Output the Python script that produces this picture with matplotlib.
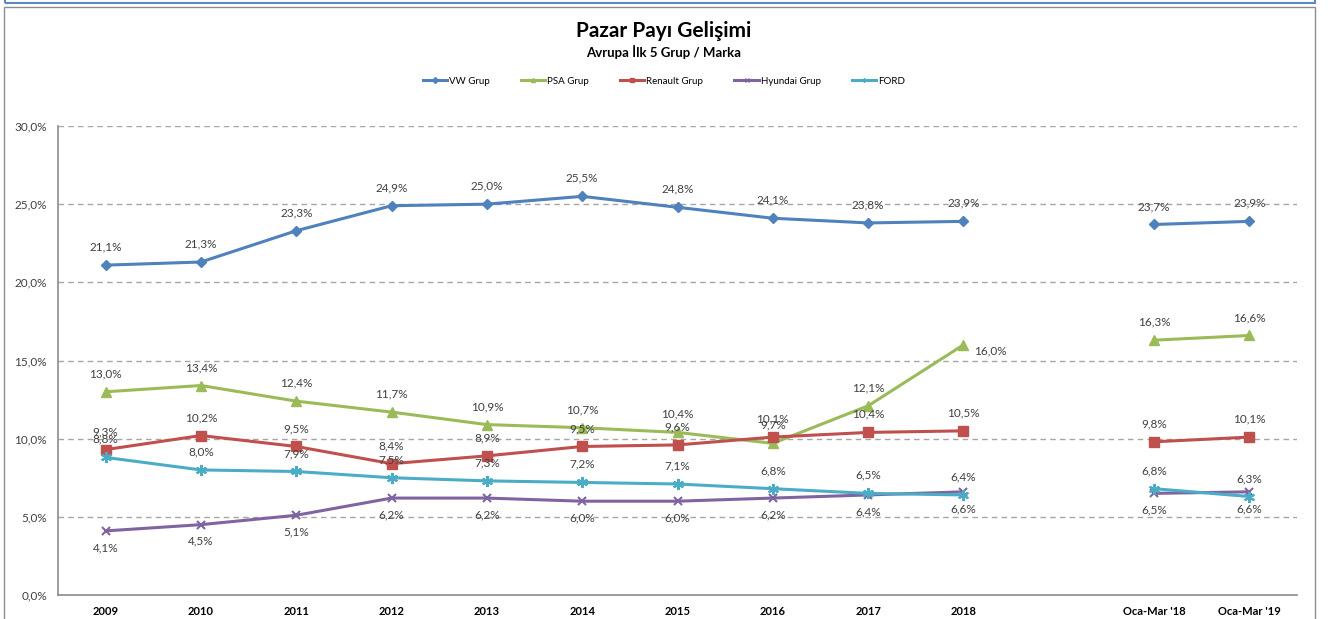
import numpy as np
import matplotlib
matplotlib.use('Agg')
import matplotlib.pyplot as plt
from matplotlib.patches import Rectangle
from matplotlib.lines import Line2D

plt.rcParams['font.family'] = ['Lato', 'DejaVu Sans']

# kategoriler (2018 ile Oca-Mar '18 arasında boş bir sütun var)
categories = ['2009', '2010', '2011', '2012', '2013', '2014', '2015', '2016',
              '2017', '2018', '', "Oca-Mar '18", "Oca-Mar '19"]

vw = [21.1, 21.3, 23.3, 24.9, 25.0, 25.5, 24.8, 24.1, 23.8, 23.9, None, 23.7, 23.9]
psa = [13.0, 13.4, 12.4, 11.7, 10.9, 10.7, 10.4, 9.7, 12.1, 16.0, None, 16.3, 16.6]
renault = [9.3, 10.2, 9.5, 8.4, 8.9, 9.5, 9.6, 10.1, 10.4, 10.5, None, 9.8, 10.1]
hyundai = [4.1, 4.5, 5.1, 6.2, 6.2, 6.0, 6.0, 6.2, 6.4, 6.6, None, 6.5, 6.6]
ford = [8.8, 8.0, 7.9, 7.5, 7.3, 7.2, 7.1, 6.8, 6.5, 6.4, None, 6.8, 6.3]

series = [
    ('VW Grup', vw, '#4F81BD', 'D', 5, 'above'),
    ('PSA Grup', psa, '#9BBB59', '^', 7, 'above'),
    ('Renault Grup', renault, '#C0504D', 's', 7, 'above'),
    ('Hyundai Grup', hyundai, '#8064A2', 'x', 6, 'below'),
    ('FORD', ford, '#4BACC6', (6, 2, 0), 8, 'above'),
]

fig = plt.figure(figsize=(13.28, 6.19), dpi=100)
W, H = 1328, 619

# çerçeveler
fig.patches.append(Rectangle((5 / W, 1 - 3 / H), 1310 / W, 4 / H, transform=fig.transFigure,
                             fill=False, edgecolor='#5B87C5', linewidth=1.5))
fig.patches.append(Rectangle((4 / W, -0.01), 1311 / W, 1 - 7 / H + 0.01, transform=fig.transFigure,
                             fill=False, edgecolor='#8C8C8C', linewidth=1.0))

ax = fig.add_axes([58 / W, 1 - 595 / H, 1239 / W, (595 - 126) / H])
x = np.arange(len(categories))

for name, vals, color, marker, ms, pos in series:
    y = np.array([np.nan if v is None else v for v in vals], dtype=float)
    ax.plot(x, y, color=color, linewidth=2.2, marker=marker, markersize=ms,
            markeredgewidth=1.5 if marker in ('x', (6, 2, 0)) else 1,
            markerfacecolor=color, markeredgecolor=color, label=name, zorder=3)
    for xi, v in zip(x, vals):
        if v is None:
            continue
        lbl = f'{v:.1f}%'.replace('.', ',')
        if name == 'PSA Grup' and categories[xi] == '2018':
            ax.annotate(lbl, (xi, v), xytext=(8, -4), textcoords='offset points',
                        ha='left', va='center', fontsize=8.5, color='#404040')
        elif pos == 'above':
            ax.annotate(lbl, (xi, v), xytext=(0, 13), textcoords='offset points',
                        ha='center', va='center', fontsize=8.5, color='#404040')
        else:
            ax.annotate(lbl, (xi, v), xytext=(0, -12), textcoords='offset points',
                        ha='center', va='center', fontsize=8.5, color='#404040')

ax.set_xlim(-0.5, len(categories) - 0.5)
ax.set_ylim(0, 30)
ax.set_yticks(np.arange(0, 31, 5))
ax.set_yticklabels([f'{t:.1f}%'.replace('.', ',') for t in np.arange(0, 31, 5)],
                   fontsize=8.5, color='#404040')
ax.set_xticks(x)
ax.set_xticklabels(categories, fontsize=8, fontweight='bold', color='#000000')
ax.tick_params(axis='both', length=0)
ax.tick_params(axis='x', pad=8)
ax.tick_params(axis='y', pad=8)
ax.grid(axis='y', linestyle=(0, (4, 3)), color='#A6A6A6', linewidth=1)
ax.set_axisbelow(True)
for s in ['top', 'right']:
    ax.spines[s].set_visible(False)
for s in ['left', 'bottom']:
    ax.spines[s].set_color('#8C8C8C')
    ax.spines[s].set_linewidth(1.2)

fig.text(0.5, 1 - 31 / H, 'Pazar Payı Gelişimi', ha='center', va='center',
         fontsize=15, fontweight='bold')
fig.text(0.5, 1 - 52 / H, 'Avrupa İlk 5 Grup / Marka', ha='center', va='center',
         fontsize=9.5, fontweight='bold')

handles = [Line2D([0], [0], color=c, linewidth=2.2, marker=m, markersize=3,
                  markerfacecolor=c, markeredgecolor=c) for _, _, c, m, _, _ in series]
fig.legend(handles, [s[0] for s in series], loc='center', bbox_to_anchor=(0.5, 1 - 81 / H),
           ncol=5, frameon=False, fontsize=7, handlelength=2.5, handletextpad=0.2,
           columnspacing=3.2)

fig.savefig('out.png', dpi=100)
